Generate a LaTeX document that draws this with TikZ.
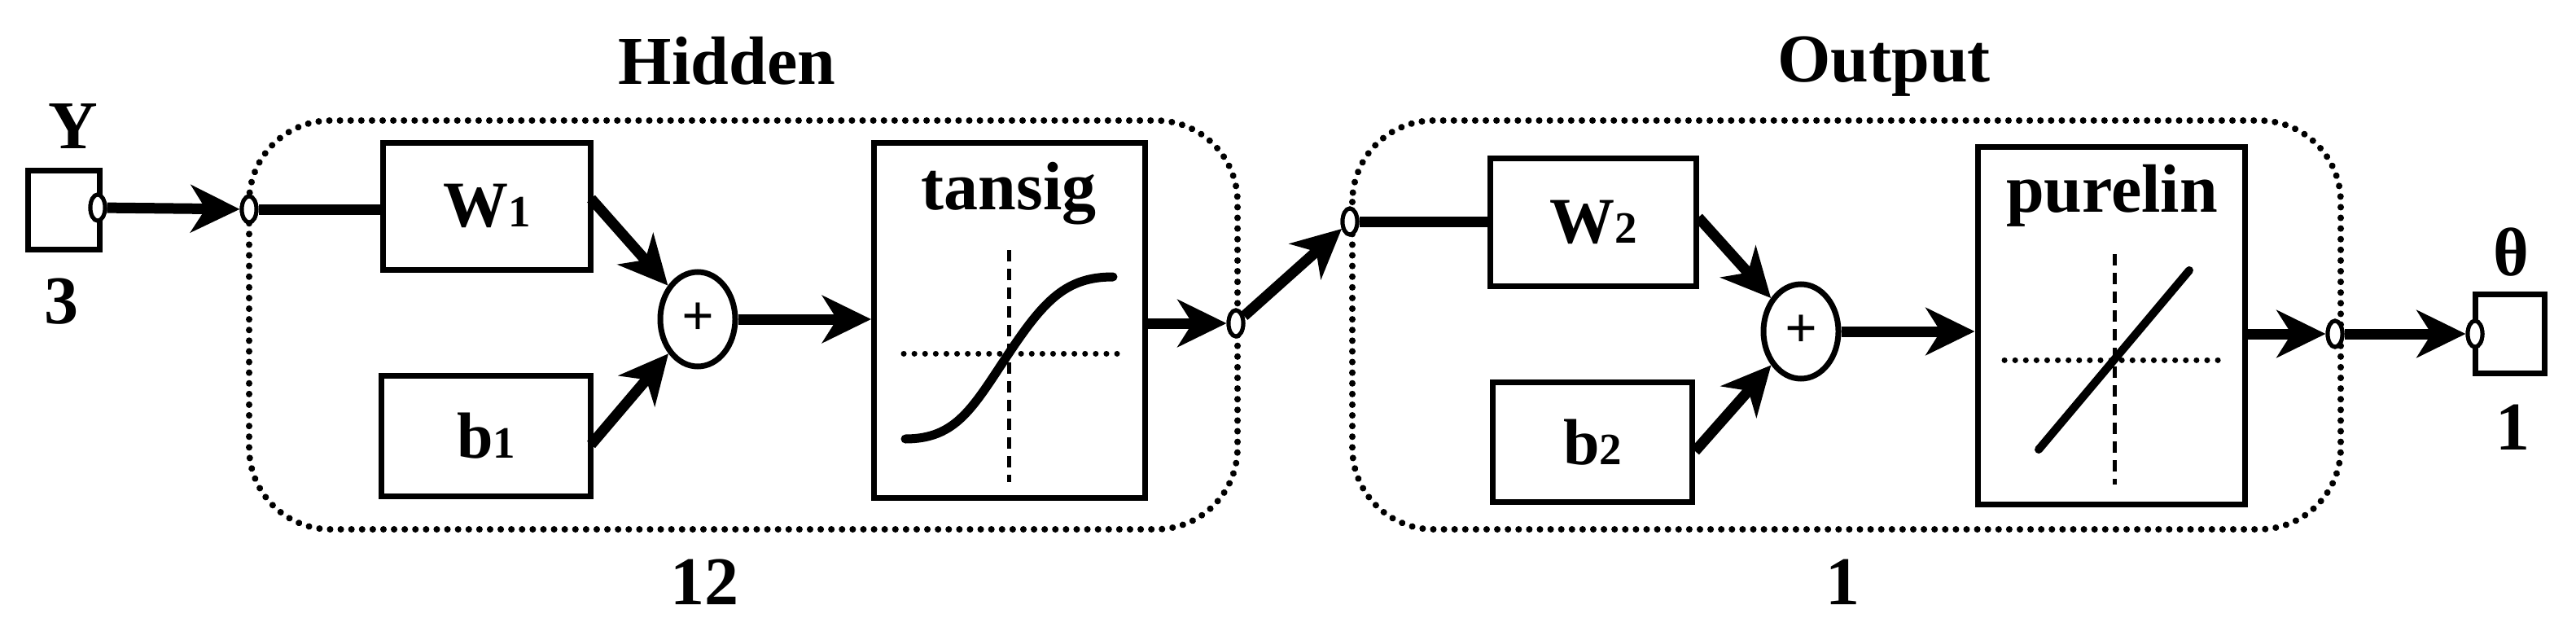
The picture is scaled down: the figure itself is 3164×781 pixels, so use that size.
\documentclass[tikz,border=0pt]{standalone}
\usepackage{fontspec}
\setmainfont{Liberation Serif}
\usetikzlibrary{arrows.meta,shapes.geometric}
\begin{document}
\begin{tikzpicture}[x=1pt,y=-1pt,
  lbl/.style={font=\fontsize{84}{90}\selectfont\bfseries, inner sep=0},
  blk/.style={draw, line width=7pt, inner sep=0, font=\fontsize{80}{90}\selectfont\bfseries},
  pin/.style={draw, ellipse, line width=5pt, fill=white, minimum width=18pt, minimum height=32pt, inner sep=0},
  sum/.style={draw, ellipse, line width=7pt, minimum width=92pt, minimum height=116pt, inner sep=0, font=\fontsize{70}{70}\selectfont\bfseries},
  arr/.style={line width=13pt, -{Stealth[length=60pt,width=58pt,inset=18pt]}},
  ln/.style={line width=13pt},
  grp/.style={draw, line width=8pt, dash pattern=on 0.1pt off 13pt, line cap=round, rounded corners=100pt},
  cross/.style={line width=5pt, dash pattern=on 14pt off 9pt},
  crossh/.style={line width=7pt, dash pattern=on 0.1pt off 13pt, line cap=round}]
\useasboundingbox (0,0) rectangle (3164,781);
% groups
\draw[grp] (306,148) rectangle (1520,650);
\draw[grp] (1661,148) rectangle (2875,650);
\node[lbl] (hid) at (893,75) {Hidden};
\node[lbl] (out) at (2314,82) {Output};
\node[lbl] (n12) at (865,715) {12};
\node[lbl] (n1) at (2263,715) {1};
% input
\node[blk, minimum width=88pt, minimum height=97pt] (yb) at (78,258) {};
\node[lbl] (yl) at (90,155) {Y};
\node[lbl] (y3) at (75,370) {3};
% hidden blocks
\node[blk, minimum width=255pt, minimum height=156pt] (w1) at (598,253) {W\fontsize{55}{60}\selectfont 1};
\node[blk, minimum width=257pt, minimum height=148pt] (b1) at (597,535) {b\fontsize{55}{60}\selectfont 1};
\node[blk, minimum width=333pt, minimum height=436pt] (tan) at (1240,393) {};
\node[lbl] (tanl) at (1239,238) {tansig};
\draw[cross] (1239,307) -- (1239,592);
\draw[crossh] (1110,434) -- (1372,434);
\draw[line width=11pt, line cap=round] (1112,539) .. controls (1175,539) and (1195,500) .. (1239,434) .. controls (1283,368) and (1310,340) .. (1367,340);
% output blocks
\node[blk, minimum width=253pt, minimum height=157pt] (w2) at (1957,273) {W\fontsize{55}{60}\selectfont 2};
\node[blk, minimum width=245pt, minimum height=147pt] (b2) at (1956,543) {b\fontsize{55}{60}\selectfont 2};
\node[blk, minimum width=328pt, minimum height=439pt] (pur) at (2593,400) {};
\node[lbl] (purl) at (2594,240) {purelin};
\draw[cross] (2597,312) -- (2597,595);
\draw[crossh] (2462,442) -- (2727,442);
\draw[line width=10pt, line cap=round] (2504,552) -- (2689,332);
% theta
\node[blk, minimum width=85pt, minimum height=97pt] (tb) at (3083,410) {};
\node[lbl] (tl) at (3084,310) {θ};
\node[lbl] (t1) at (3086,525) {1};
% sums
\node[sum] (s1) at (857,392) {+};
\node[sum] (s2) at (2212,407) {+};
% pins
\node[pin] (p0) at (120,255) {};
\node[pin] (p1) at (306,257) {};
\node[pin] (p2) at (1518,397) {};
\node[pin] (p3) at (1658,272) {};
\node[pin] (p4) at (2868,410) {};
\node[pin] (p5) at (3040,410) {};
% connectors
\draw[arr] (p0) -- (p1);
\draw[ln] (p1) -- (w1.west |- p1);
\draw[arr] (726,244) -- (s1);
\draw[arr] (726,546) -- (s1);
\draw[arr] (s1) -- (tan.west |- s1);
\draw[arr] (tan.east |- p2) -- (p2);
\draw[arr] (p2) -- (p3);
\draw[ln] (p3) -- (w2.west |- p3);
\draw[arr] (2086,267) -- (s2);
\draw[arr] (2082,554) -- (s2);
\draw[arr] (s2) -- (pur.west |- s2);
\draw[arr] (pur.east |- p4) -- (p4);
\draw[arr] (p4) -- (p5);
\node[pin] at (p1) {};
\node[pin] at (p2) {};
\node[pin] at (p3) {};
\node[pin] at (p4) {};
\node[pin] at (p5) {};
\node[pin] at (p0) {};
\end{tikzpicture}
\end{document}
